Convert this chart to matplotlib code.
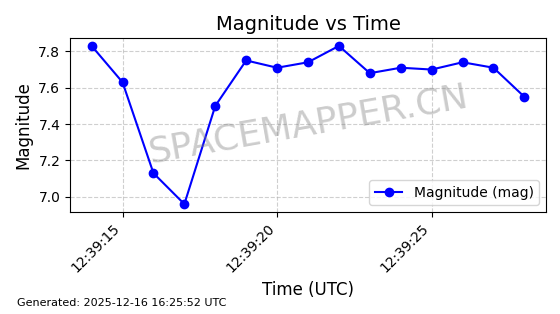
import datetime as dt
import matplotlib
matplotlib.use("Agg")
import matplotlib.pyplot as plt
import matplotlib.dates as mdates

# ----------------------------
# Data
# ----------------------------
seconds = list(range(14, 29))
magnitude = [7.83, 7.63, 7.13, 6.96, 7.50, 7.75, 7.71, 7.74,
             7.83, 7.68, 7.71, 7.70, 7.74, 7.71, 7.55]
times = [dt.datetime(2025, 12, 16, 12, 39, s) for s in seconds]

fig = plt.figure(figsize=(5.6, 3.14), dpi=100)
ax = fig.add_axes([70 / 560, 1 - 212 / 314, 476 / 560, 174 / 314])

ax.plot(times, magnitude, color="blue", marker="o", markersize=6,
        linewidth=1.5, label="Magnitude (mag)")

ax.set_title("Magnitude vs Time", fontsize=14)
ax.set_xlabel("Time (UTC)", fontsize=12)
ax.set_ylabel("Magnitude", fontsize=12)
ax.grid(True, linestyle="--", alpha=0.6)
ax.legend(loc="lower right", fontsize=10)

ax.xaxis.set_major_locator(mdates.SecondLocator(bysecond=[15, 20, 25]))
ax.xaxis.set_major_formatter(mdates.DateFormatter("%H:%M:%S"))
ax.set_yticks([7.0, 7.2, 7.4, 7.6, 7.8])
for lbl in ax.get_xticklabels():
    lbl.set_rotation(45)
    lbl.set_ha("right")

ax.text(0.5, 0.5, "SPACEMAPPER.CN", transform=ax.transAxes,
        fontsize=26, color="gray", alpha=0.4, rotation=10,
        ha="center", va="center")

fig.text(0.03, 0.025, "Generated: 2025-12-16 16:25:52 UTC", fontsize=8)

fig.savefig("out.png", dpi=100)
